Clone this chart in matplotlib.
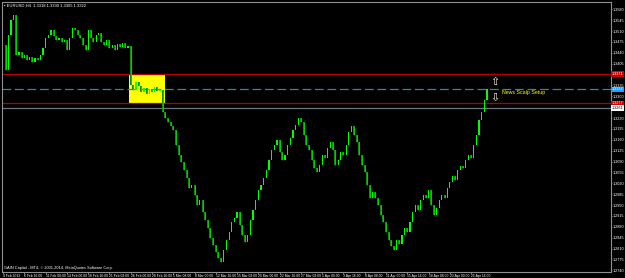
import numpy as np
import matplotlib.pyplot as plt
from matplotlib.patches import Rectangle
import matplotlib.transforms as mtransforms

plt.rcParams['font.family'] = ['Liberation Sans', 'DejaVu Sans']

# 8-hour closes
closes = [1.3465, 1.3385, 1.3497, 1.3546, 1.3562, 1.3433, 1.3443, 1.3423, 1.3433, 1.3417,
          1.3427, 1.3410, 1.3423, 1.3417, 1.3433, 1.3455, 1.3488, 1.3497, 1.3513, 1.3494,
          1.3481, 1.3488, 1.3475, 1.3481, 1.3449, 1.3488, 1.3520, 1.3513, 1.3497, 1.3488,
          1.3465, 1.3449, 1.3513, 1.3488, 1.3475, 1.3497, 1.3504, 1.3475, 1.3465, 1.3481,
          1.3455, 1.3465, 1.3449, 1.3468, 1.3459, 1.3472, 1.3455, 1.3462, 1.3336, 1.3320,
          1.3346, 1.3333, 1.3314, 1.3327, 1.3307, 1.3323, 1.3314, 1.3330, 1.3317, 1.3320,
          1.3249, 1.3230, 1.3217, 1.3204, 1.3191, 1.3143, 1.3111, 1.3088, 1.3063, 1.3037,
          1.3005, 1.3014, 1.2982, 1.2950, 1.2966, 1.2927, 1.2902, 1.2876, 1.2844, 1.2821,
          1.2799, 1.2779, 1.2766, 1.2805, 1.2837, 1.2863, 1.2895, 1.2908, 1.2927, 1.2886,
          1.2853, 1.2831, 1.2853, 1.2902, 1.2934, 1.2966, 1.2998, 1.3014, 1.3037, 1.3063,
          1.3095, 1.3127, 1.3143, 1.3159, 1.3121, 1.3095, 1.3111, 1.3143, 1.3166, 1.3191,
          1.3208, 1.3230, 1.3217, 1.3175, 1.3143, 1.3127, 1.3095, 1.3069, 1.3056, 1.3079,
          1.3111, 1.3101, 1.3133, 1.3153, 1.3127, 1.3079, 1.3095, 1.3121, 1.3111, 1.3143,
          1.3185, 1.3204, 1.3175, 1.3153, 1.3111, 1.3079, 1.3056, 1.3014, 1.2972, 1.2992,
          1.2972, 1.2950, 1.2918, 1.2895, 1.2863, 1.2837, 1.2818, 1.2805, 1.2837, 1.2824,
          1.2853, 1.2876, 1.2863, 1.2895, 1.2927, 1.2950, 1.2934, 1.2966, 1.2982, 1.2972,
          1.2998, 1.2950, 1.2918, 1.2940, 1.2966, 1.2982, 1.2972, 1.3005, 1.3024, 1.3043,
          1.3030, 1.3063, 1.3076, 1.3069, 1.3095, 1.3111, 1.3101, 1.3143, 1.3175, 1.3224,
          1.3249, 1.3288, 1.3322]

date_labels = ["4 Feb 2013", "6 Feb 16:00", "11 Feb 08:00", "14 Feb 00:00", "18 Feb 16:00",
               "21 Feb 08:00", "26 Feb 00:00", "28 Feb 16:00", "5 Mar 08:00", "8 Mar 00:00",
               "12 Mar 16:00", "15 Mar 08:00", "20 Mar 00:00", "22 Mar 16:00", "27 Mar 08:00",
               "1 Apr 00:00", "3 Apr 16:00", "8 Apr 08:00", "11 Apr 00:00", "15 Apr 16:00",
               "18 Apr 08:00", "23 Apr 00:00", "25 Apr 16:00"]

price_ticks = [1.3580 - 0.0035 * i for i in range(25)]

res_high = 1.3371     # upper red line
res_low = 1.3277      # lower red line
bid = 1.3322          # dashed line
ask_line = 1.3261     # grey line
box_start, box_end = 47.4, 60.9

closes = np.array(closes)
opens = np.r_[closes[0], closes[:-1]]
x = np.arange(len(closes))

fig = plt.figure(figsize=(6.25, 2.78), dpi=100, facecolor='black')
ax = fig.add_axes([2 / 625, 6.5 / 278, 609 / 625, 269.5 / 278])
ax.set_facecolor('black')

# yellow setup box
ax.add_patch(Rectangle((box_start, res_low), box_end - box_start, res_high - res_low,
                       facecolor='#ffff00', edgecolor='none', zorder=1))

ax.axhline(res_high, color='#b00000', lw=0.9, zorder=2)
ax.axhline(res_low, color='#b00000', lw=0.9, zorder=2)
ax.axhline(bid, color='#2f86a8', lw=0.9, ls=(0, (7, 3)), zorder=2)
ax.axhline(ask_line, color='#6e7684', lw=0.9, zorder=2)

# candles
up = closes >= opens
h = np.abs(closes - opens)
h = np.where(h < 0.00015, 0.00015, h)
bot = np.minimum(opens, closes)
ax.bar(x[~up], h[~up], bottom=bot[~up], width=0.75, color='#009a00', lw=0, zorder=3)
ax.bar(x[up], h[up], bottom=bot[up], width=0.45, color='#00ff00', lw=0, zorder=3)
ax.vlines(x[~up], bot[~up], bot[~up] + h[~up], color='#00ff00', lw=0.4, zorder=3)

# annotation
ax.text(185, 1.3346, '\u21e7', color='#fff4dc', fontsize=8, ha='center', va='center',
        family='DejaVu Sans', zorder=4)
ax.text(185, 1.3294, '\u21e9', color='#fff4dc', fontsize=8, ha='center', va='center',
        family='DejaVu Sans', zorder=4)
ax.text(187.8, 1.3311, 'News Scalp Setup', color='#ffff00', fontsize=3.8, ha='left',
        va='center', zorder=4)

ax.set_xlim(-0.4, 228.6)
ax.set_ylim(1.27361, 1.36035)

ax.yaxis.tick_right()
ax.set_yticks(price_ticks)
ax.set_yticklabels(['%.4f' % v for v in price_ticks])
ax.set_xticks(np.arange(len(date_labels)) * 8)
ax.set_xticklabels(date_labels)
ax.tick_params(axis='x', colors='#a0a0a0', labelcolor='white', labelsize=2.4,
               length=1.5, width=0.5, pad=0.6)
ax.tick_params(axis='y', colors='#a0a0a0', labelcolor='white', labelsize=2.7,
               length=1.0, width=0.5, pad=0.5)
plt.setp(ax.get_xticklabels(), ha='left')
for s in ax.spines.values():
    s.set_color('#909090')
    s.set_linewidth(0.8)

# price labels on the right axis
trans = mtransforms.blended_transform_factory(ax.transAxes, ax.transData)
for val, fc, tc in [(res_high, '#d00000', 'white'), (bid, '#1ea0ff', 'white'),
                    (res_low, '#d00000', 'white'), (ask_line, 'white', 'black')]:
    ax.text(1.0015, val, '%.4f' % val, transform=trans, fontsize=2.7, color=tc, va='center',
            ha='left', clip_on=False, zorder=10,
            bbox=dict(boxstyle='square,pad=0.25', fc=fc, ec='none'))

ax.text(0.004, 0.993, '\u25aa EURUSD,H4  1.3318 1.3330 1.3305 1.3322', transform=ax.transAxes,
        color='white', fontsize=3, va='top', ha='left')
ax.text(0.004, 0.006, 'GAIN Capital - MT4, \u00a9 2001-2014, MetaQuotes Software Corp.',
        transform=ax.transAxes, color='white', fontsize=2.8, va='bottom', ha='left')

fig.savefig('out.png', dpi=100, facecolor='black')
